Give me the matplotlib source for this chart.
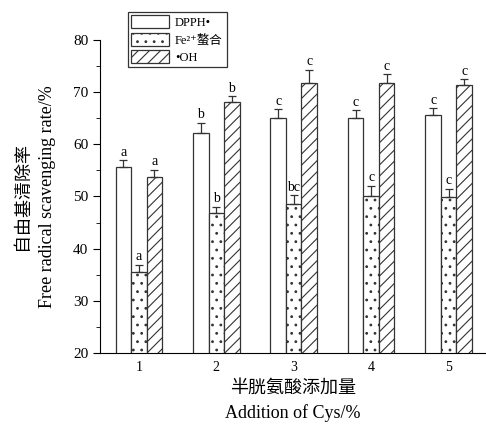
import numpy as np
import matplotlib.pyplot as plt

plt.rcParams['font.family'] = ['Liberation Serif', 'DejaVu Serif', 'Noto Sans CJK SC']
plt.rcParams['hatch.linewidth'] = 0.8

## data
groups = ['1', '2', '3', '4', '5']
dpph = [55.6, 62.2, 65.1, 65.0, 65.6]
dpph_err = [1.3, 1.9, 1.6, 1.5, 1.3]
fe = [35.5, 46.8, 48.6, 50.1, 49.9]
fe_err = [1.4, 1.2, 1.6, 1.9, 1.6]
oh = [53.7, 68.1, 71.7, 71.8, 71.4]
oh_err = [1.4, 1.1, 2.6, 1.6, 1.0]
dpph_sig = ['a', 'b', 'c', 'c', 'c']
fe_sig = ['a', 'b', 'bc', 'c', 'c']
oh_sig = ['a', 'b', 'c', 'c', 'c']

x = np.arange(1, 6)
w = 0.2

fig = plt.figure(figsize=(4.86, 4.28), dpi=100)
ax = fig.add_axes([0.206, 0.175, 0.792, 0.732])

series = [
    (dpph, dpph_err, dpph_sig, 'DPPH•', '', -w),
    (fe, fe_err, fe_sig, 'Fe²⁺螯合', '..', 0),
    (oh, oh_err, oh_sig, '•OH', '///', w),
]
for vals, errs, sig, lab, hatch, off in series:
    ax.bar(x + off, vals, w, color='white', edgecolor='#333333',
           linewidth=0.9, hatch=hatch, label=lab)
    ax.errorbar(x + off, vals, yerr=[np.zeros(5), errs], fmt='none',
                ecolor='#333333', elinewidth=0.9, capsize=3, capthick=0.9)
    for xi, v, e, s in zip(x + off, vals, errs, sig):
        ax.text(xi, v + e + 0.3, s, ha='center', va='bottom', fontsize=10)

ax.set_xlim(0.5, 5.47)
ax.set_ylim(20, 80)
ax.set_xticks(x)
ax.set_xticklabels(groups, fontsize=10)
ax.tick_params(axis='x', length=0, pad=6)
ax.set_yticks(np.arange(20, 81, 10))
ax.set_yticks(np.arange(25, 80, 10), minor=True)
ax.tick_params(axis='y', labelsize=11, length=5)
ax.tick_params(axis='y', which='minor', length=3)
ax.spines['top'].set_visible(False)
ax.spines['right'].set_visible(False)

ax.set_xlabel('半胱氨酸添加量\nAddition of Cys/%', fontsize=13, linespacing=1.5)
ax.set_ylabel('自由基清除率\nFree radical scavenging rate/%', fontsize=13,
              linespacing=1.65, labelpad=12)

leg = ax.legend(loc='upper left', bbox_to_anchor=(0.055, 1.11), fontsize=9,
                frameon=True, fancybox=False, edgecolor='black',
                handlelength=3, handleheight=1.2, borderpad=0.3,
                labelspacing=0.3, handletextpad=0.5)
leg.get_frame().set_linewidth(0.9)

plt.savefig('out.png', dpi=100)
